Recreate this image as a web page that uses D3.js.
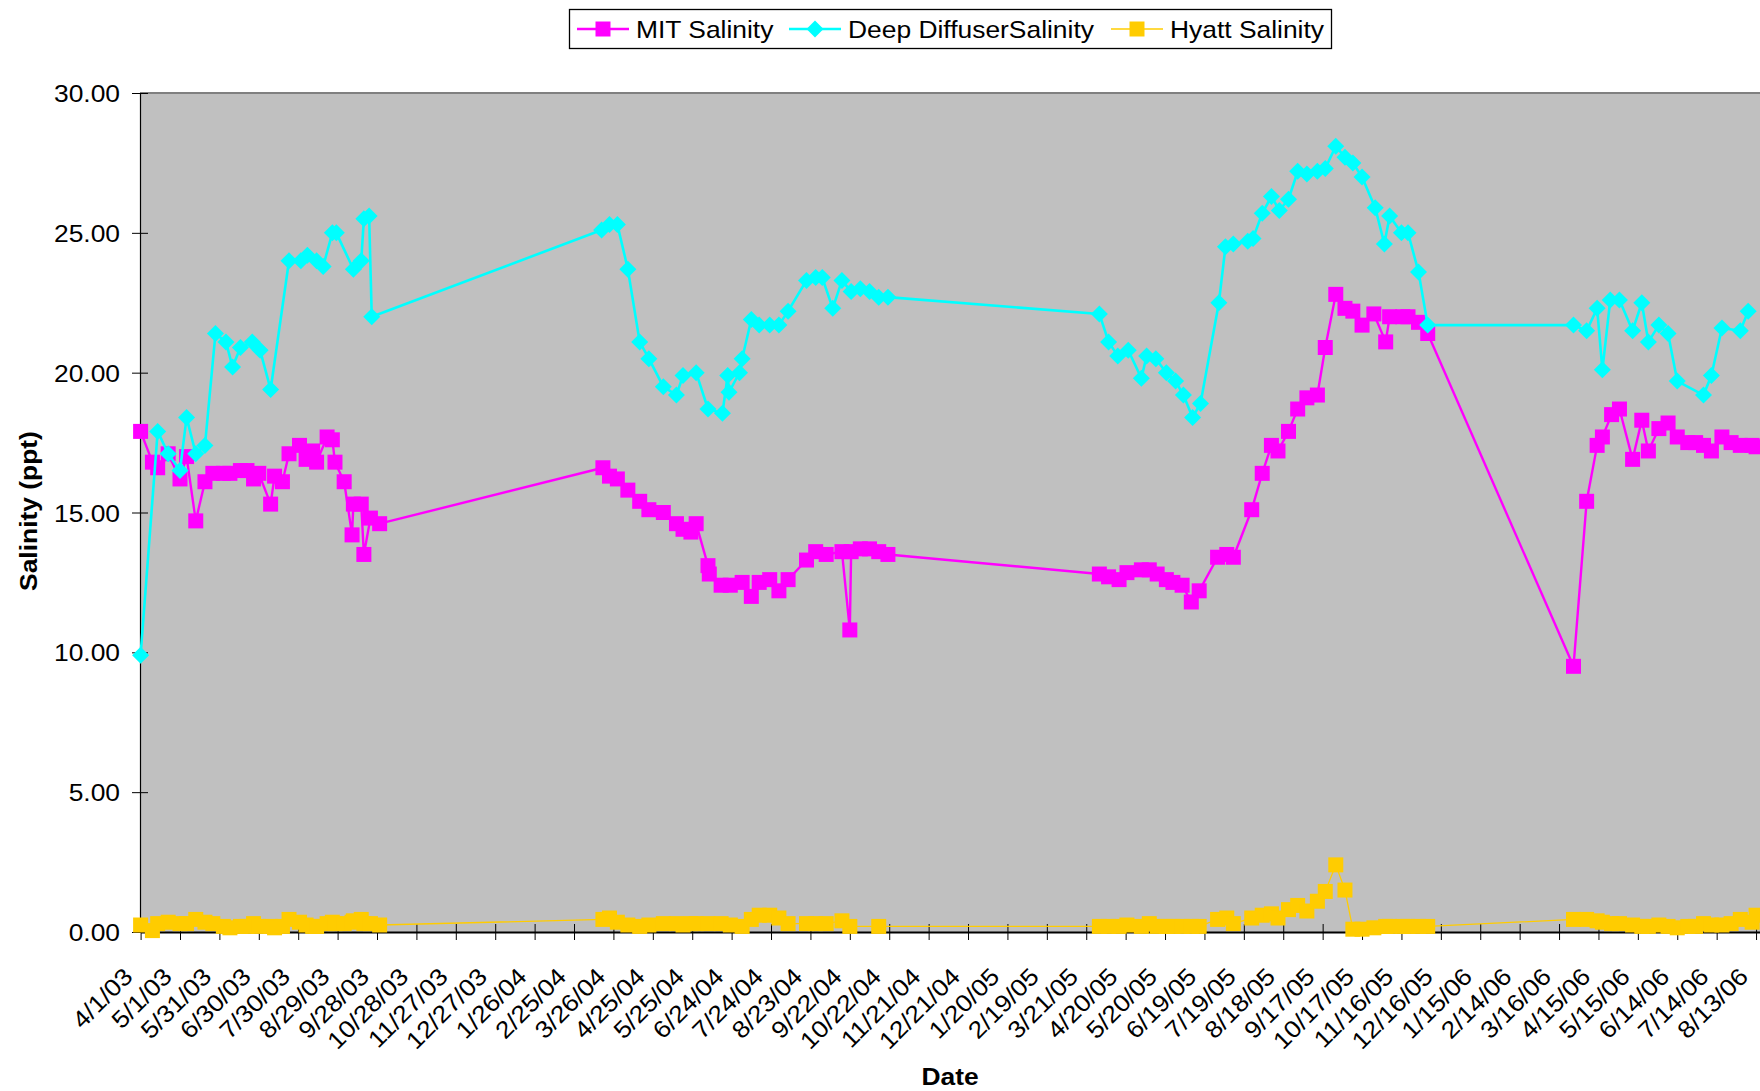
<!DOCTYPE html>
<html>
<head>
<meta charset="utf-8">
<script src="https://cdn.jsdelivr.net/npm/d3@7"></script>
<style>
  body { margin: 0; background: #fff; }
  text { font-family: "Liberation Sans", Arial, sans-serif; fill: #000; }
</style>
</head>
<body>
<div id="plot"></div>
<script>
// Tick labels on the date axis (one every 30 days)
var tickLabels = ["4/1/03","5/1/03","5/31/03","6/30/03","7/30/03","8/29/03","9/28/03","10/28/03",
  "11/27/03","12/27/03","1/26/04","2/25/04","3/26/04","4/25/04","5/25/04","6/24/04","7/24/04",
  "8/23/04","9/22/04","10/22/04","11/21/04","12/21/04","1/20/05","2/19/05","3/21/05","4/20/05",
  "5/20/05","6/19/05","7/19/05","8/18/05","9/17/05","10/17/05","11/16/05","12/16/05","1/15/06",
  "2/14/06","3/16/06","4/15/06","5/15/06","6/14/06","7/14/06","8/13/06"];
var yTicks = [0, 5, 10, 15, 20, 25, 30];

var seriesNames = ["MIT Salinity", "Deep DiffuserSalinity", "Hyatt Salinity"];
var seriesColors = ["#FF00FF", "#00FFFF", "#FFCC00"];

// MIT salinity
var mitDates = ["4/1/03","4/10/03","4/14/03","4/22/03","5/1/03","5/6/03","5/13/03","5/20/03","5/26/03",
  "6/3/03","6/8/03","6/16/03","6/21/03","6/26/03","6/30/03","7/9/03","7/12/03","7/18/03","7/23/03",
  "7/31/03","8/5/03","8/10/03","8/13/03","8/21/03","8/25/03","8/27/03","9/3/03","9/9/03","9/10/03",
  "9/16/03","9/18/03","9/23/03","9/30/03",
  "3/18/04","3/23/04","3/29/04","4/6/04","4/15/04","4/22/04","5/3/04","5/13/04","5/18/04","5/24/04",
  "5/28/04","6/6/04","6/7/04","6/16/04","6/23/04","7/2/04","7/9/04","7/15/04","7/23/04","7/30/04",
  "8/6/04","8/20/04","8/27/04","9/4/04","9/16/04","9/22/04","9/23/04","9/30/04","10/7/04","10/14/04","10/21/04",
  "3/31/05","4/7/05","4/15/05","4/21/05","5/2/05","5/8/05","5/14/05","5/21/05","5/26/05","6/2/05",
  "6/9/05","6/15/05","6/29/05","7/6/05","7/11/05","7/25/05","8/2/05","8/9/05","8/14/05","8/22/05",
  "8/29/05","9/5/05","9/13/05","9/19/05","9/27/05","10/4/05","10/10/05","10/17/05","10/26/05","11/4/05",
  "11/7/05","11/17/05","11/21/05","11/29/05","12/6/05",
  "3/27/06","4/6/06","4/14/06","4/18/06","4/25/06","5/1/06","5/11/06","5/18/06","5/23/06","5/31/06",
  "6/7/06","6/14/06","6/22/06","6/28/06","7/4/06","7/10/06","7/18/06","7/25/06","8/1/06","8/10/06","8/13/06"];
var mitValues = [17.9,16.8,16.6,17.1,16.2,17.0,14.7,16.1,16.4,16.4,16.4,16.5,16.5,16.2,16.4,15.3,16.3,16.1,
  17.1,17.4,16.9,17.2,16.8,17.7,17.6,16.8,16.1,14.2,15.3,15.3,13.5,14.8,14.6,
  16.6,16.3,16.2,15.8,15.4,15.1,15.0,14.6,14.4,14.3,14.6,13.1,12.8,12.4,12.4,12.5,12.0,12.5,12.6,12.2,
  12.6,13.3,13.6,13.5,13.6,10.8,13.6,13.7,13.7,13.6,13.5,
  12.8,12.7,12.6,12.85,12.95,12.95,12.8,12.6,12.5,12.4,11.8,12.2,13.4,13.5,13.4,15.1,16.4,17.4,17.2,
  17.9,18.7,19.1,19.2,20.9,22.8,22.3,22.2,21.7,22.1,21.1,22.0,22.0,22.0,21.8,21.4,
  9.5,15.4,17.4,17.7,18.5,18.7,16.9,18.3,17.2,18.0,18.2,17.7,17.5,17.5,17.4,17.2,17.7,17.5,17.4,17.4,17.35];

// Deep diffuser salinity
var diffuserDates = ["4/1/03","4/14/03","4/22/03","5/1/03","5/6/03","5/13/03","5/20/03","5/28/03","6/5/03",
  "6/10/03","6/16/03","6/25/03","7/1/03","7/9/03","7/23/03","8/1/03","8/6/03","8/13/03","8/18/03",
  "8/25/03","8/28/03","9/10/03","9/16/03","9/18/03","9/22/03","9/24/03",
  "3/17/04","3/23/04","3/29/04","4/6/04","4/15/04","4/22/04","5/3/04","5/13/04","5/18/04","5/28/04",
  "6/6/04","6/17/04","6/21/04","6/22/04","6/30/04","7/2/04","7/9/04","7/15/04","7/23/04","7/30/04",
  "8/6/04","8/20/04","8/27/04","9/1/04","9/9/04","9/16/04","9/23/04","9/30/04","10/7/04","10/14/04","10/21/04",
  "3/31/05","4/7/05","4/14/05","4/22/05","5/2/05","5/6/05","5/13/05","5/21/05","5/28/05","6/3/05",
  "6/10/05","6/16/05","6/30/05","7/5/05","7/11/05","7/22/05","7/26/05","8/2/05","8/9/05","8/15/05",
  "8/22/05","8/29/05","9/5/05","9/13/05","9/19/05","9/27/05","10/4/05","10/10/05","10/17/05","10/27/05",
  "11/3/05","11/7/05","11/16/05","11/21/05","11/29/05","12/6/05",
  "3/27/06","4/6/06","4/14/06","4/18/06","4/24/06","5/1/06","5/11/06","5/18/06","5/23/06","5/31/06",
  "6/7/06","6/14/06","7/4/06","7/10/06","7/18/06","8/1/06","8/7/06"];
var diffuserValues = [9.9,17.9,17.1,16.5,18.4,17.1,17.4,21.4,21.1,20.2,20.9,21.1,20.8,19.4,24.0,24.0,24.2,
  24.0,23.8,25.0,25.0,23.7,24.0,25.5,25.6,22.0,
  25.1,25.3,25.3,23.7,21.1,20.5,19.5,19.2,19.9,20.0,18.7,18.55,19.9,19.3,20.0,20.5,21.9,21.7,21.7,21.7,
  22.2,23.3,23.4,23.4,22.3,23.3,22.9,23.0,22.9,22.7,22.7,
  22.1,21.1,20.6,20.8,19.8,20.6,20.5,20.0,19.7,19.2,18.4,18.9,22.5,24.5,24.6,24.7,24.8,25.7,26.3,25.8,
  26.2,27.2,27.1,27.2,27.3,28.1,27.7,27.5,27.0,25.9,24.6,25.6,25.0,25.0,23.6,21.7,
  21.7,21.5,22.3,20.1,22.6,22.6,21.5,22.5,21.1,21.7,21.4,19.7,19.2,19.9,21.6,21.5,22.2];

// Hyatt salinity
var hyattDates = ["4/1/03","4/10/03","4/14/03","4/22/03","5/1/03","5/6/03","5/13/03","5/20/03","5/26/03",
  "6/3/03","6/8/03","6/16/03","6/21/03","6/26/03","6/30/03","7/9/03","7/12/03","7/18/03","7/23/03",
  "7/31/03","8/5/03","8/10/03","8/13/03","8/21/03","8/25/03","8/27/03","9/3/03","9/9/03","9/10/03",
  "9/16/03","9/18/03","9/23/03","9/30/03",
  "3/18/04","3/23/04","3/29/04","4/6/04","4/15/04","4/22/04","5/3/04","5/13/04","5/18/04","5/24/04",
  "5/28/04","6/6/04","6/16/04","6/23/04","7/2/04","7/9/04","7/15/04","7/23/04","7/30/04","8/6/04",
  "8/20/04","8/27/04","9/4/04","9/16/04","9/22/04","10/14/04",
  "3/31/05","4/7/05","4/15/05","4/21/05","5/2/05","5/8/05","5/14/05","5/21/05","5/26/05","6/2/05",
  "6/9/05","6/15/05","6/29/05","7/6/05","7/11/05","7/25/05","8/2/05","8/9/05","8/14/05","8/22/05",
  "8/29/05","9/5/05","9/13/05","9/19/05","9/27/05","10/4/05","10/10/05","10/17/05","10/26/05","11/4/05",
  "11/7/05","11/17/05","11/21/05","11/29/05","12/6/05",
  "3/27/06","4/6/06","4/14/06","4/18/06","4/25/06","5/1/06","5/11/06","5/18/06","5/23/06","5/31/06",
  "6/7/06","6/14/06","6/22/06","6/28/06","7/4/06","7/10/06","7/18/06","7/25/06","8/1/06","8/10/06","8/13/06"];
var hyattValues = [0.25,0.05,0.3,0.35,0.3,0.3,0.45,0.35,0.3,0.2,0.15,0.2,0.2,0.3,0.2,0.2,0.15,0.2,0.45,
  0.35,0.25,0.2,0.2,0.3,0.35,0.3,0.3,0.35,0.4,0.45,0.3,0.3,0.25,
  0.45,0.5,0.35,0.25,0.2,0.25,0.3,0.3,0.25,0.3,0.3,0.3,0.3,0.25,0.2,0.45,0.6,0.6,0.5,0.3,0.3,0.3,0.3,0.4,0.2,0.2,
  0.2,0.2,0.2,0.25,0.2,0.3,0.2,0.2,0.2,0.2,0.2,0.2,0.45,0.5,0.3,0.5,0.6,0.65,0.5,0.8,0.95,0.75,1.1,
  1.45,2.4,1.5,0.1,0.1,0.15,0.2,0.2,0.2,0.2,0.2,0.2,
  0.45,0.45,0.4,0.35,0.3,0.3,0.25,0.2,0.2,0.25,0.2,0.15,0.2,0.2,0.3,0.25,0.25,0.3,0.45,0.35,0.6];

// Page and plot geometry
var W = 1760, H = 1091;
var plot = {left: 140, top: 93, right: 1760, bottom: 932};
var fontSize = 24, stretch = 1.1;   // the original fonts are drawn a little wide

var parse = d3.utcParse("%m/%d/%y");

var svg = d3.select("#plot")
  .append("svg")
    .attr("width", W)
    .attr("height", H)
    .style("display", "block");

var x = d3.scaleUtc()
  .domain([parse("4/1/03"), parse("8/16/06")])
  .range([plot.left + 0.6, plot.right]);

var y = d3.scaleLinear()
  .domain([0, 30])
  .range([plot.bottom, plot.top]);

// Plot area
svg.append("rect")
  .attr("x", plot.left)
  .attr("y", plot.top)
  .attr("width", plot.right - plot.left)
  .attr("height", plot.bottom - plot.top)
  .attr("fill", "#C0C0C0");

svg.append("line")
  .attr("x1", plot.left).attr("x2", plot.right)
  .attr("y1", plot.top).attr("y2", plot.top)
  .attr("stroke", "#808080")
  .attr("stroke-width", 2);

// Y axis
var yAxis = svg.append("g")
  .attr("transform", `translate(${plot.left},0)`)
  .call(d3.axisLeft(y).tickValues(yTicks).tickFormat(d3.format(".2f")).tickSize(8).tickSizeOuter(0));
yAxis.select(".domain").attr("stroke", "#000").attr("stroke-width", 1.2);
yAxis.selectAll(".tick line").attr("x1", 8).attr("stroke", "#000");
yAxis.selectAll(".tick text")
  .attr("x", 0)
  .attr("dy", "0.36em")
  .attr("transform", `translate(-20,0) scale(${stretch},1)`)
  .style("font-size", fontSize + "px")
  .attr("text-anchor", "end");

// X axis
var xAxis = svg.append("g")
  .attr("transform", `translate(0,${plot.bottom})`)
  .call(d3.axisBottom(x)
    .tickValues(tickLabels.map(parse))
    .tickFormat((d, i) => tickLabels[i])
    .tickSize(8)
    .tickSizeOuter(0));
xAxis.select(".domain").attr("stroke", "#000").attr("stroke-width", 2);
xAxis.selectAll(".tick line").attr("y1", -8).attr("stroke", "#000");
xAxis.selectAll(".tick text")
  .attr("x", 0).attr("y", 0).attr("dy", 0)
  .attr("text-anchor", "end")
  .attr("transform", `translate(-7,46) rotate(-45) scale(${stretch},1)`)
  .style("font-size", fontSize + "px");

// Axis titles
svg.append("text")
  .attr("transform", `translate(950,1085) scale(${stretch},1)`)
  .attr("text-anchor", "middle")
  .style("font-size", fontSize + "px")
  .style("font-weight", "bold")
  .text("Date");

svg.append("text")
  .attr("transform", `translate(37,511) rotate(-90) scale(${stretch},1)`)
  .attr("text-anchor", "middle")
  .style("font-size", fontSize + "px")
  .style("font-weight", "bold")
  .text("Salinity (ppt)");

// Series
function toPoints(dates, values) {
  return dates.map((d, i) => ({date: parse(d), value: values[i]}));
}
var series = [
  {name: seriesNames[0], color: seriesColors[0], width: 2.4, marker: "square", points: toPoints(mitDates, mitValues)},
  {name: seriesNames[1], color: seriesColors[1], width: 2.6, marker: "diamond", points: toPoints(diffuserDates, diffuserValues)},
  {name: seriesNames[2], color: seriesColors[2], width: 1.3, marker: "square", points: toPoints(hyattDates, hyattValues)}
];

var line = d3.line()
  .x(d => x(d.date))
  .y(d => y(d.value));

var markerPath = {
  square: "M-7.5,-7.5H7.5V7.5H-7.5Z",
  diamond: "M0,-8.5L8.5,0L0,8.5L-8.5,0Z"
};

series.forEach(function(s) {
  var g = svg.append("g").attr("class", "series");
  g.append("path")
    .datum(s.points)
    .attr("fill", "none")
    .attr("stroke", s.color)
    .attr("stroke-width", s.width)
    .attr("stroke-linejoin", "round")
    .attr("d", line);
  g.selectAll(".dot")
    .data(s.points)
    .enter()
    .append("path")
    .attr("class", "dot")
    .attr("transform", d => `translate(${x(d.date)},${y(d.value)})`)
    .attr("d", markerPath[s.marker])
    .attr("fill", s.color);
});

// Legend
var legend = svg.append("g");
legend.append("rect")
  .attr("x", 569.5).attr("y", 9.5)
  .attr("width", 762).attr("height", 39)
  .attr("fill", "#fff")
  .attr("stroke", "#000")
  .attr("stroke-width", 1.3);

var legendX = [577, 789, 1111];
series.forEach(function(s, i) {
  var lg = legend.append("g").attr("transform", `translate(${legendX[i]},29)`);
  lg.append("line")
    .attr("x1", 0).attr("x2", 52)
    .attr("stroke", s.color)
    .attr("stroke-width", s.width);
  lg.append("path")
    .attr("transform", "translate(26,0)")
    .attr("d", markerPath[s.marker])
    .attr("fill", s.color);
  lg.append("text")
    .attr("transform", `translate(59,8.5) scale(${stretch},1)`)
    .style("font-size", fontSize + "px")
    .text(s.name);
});
</script>
</body>
</html>
